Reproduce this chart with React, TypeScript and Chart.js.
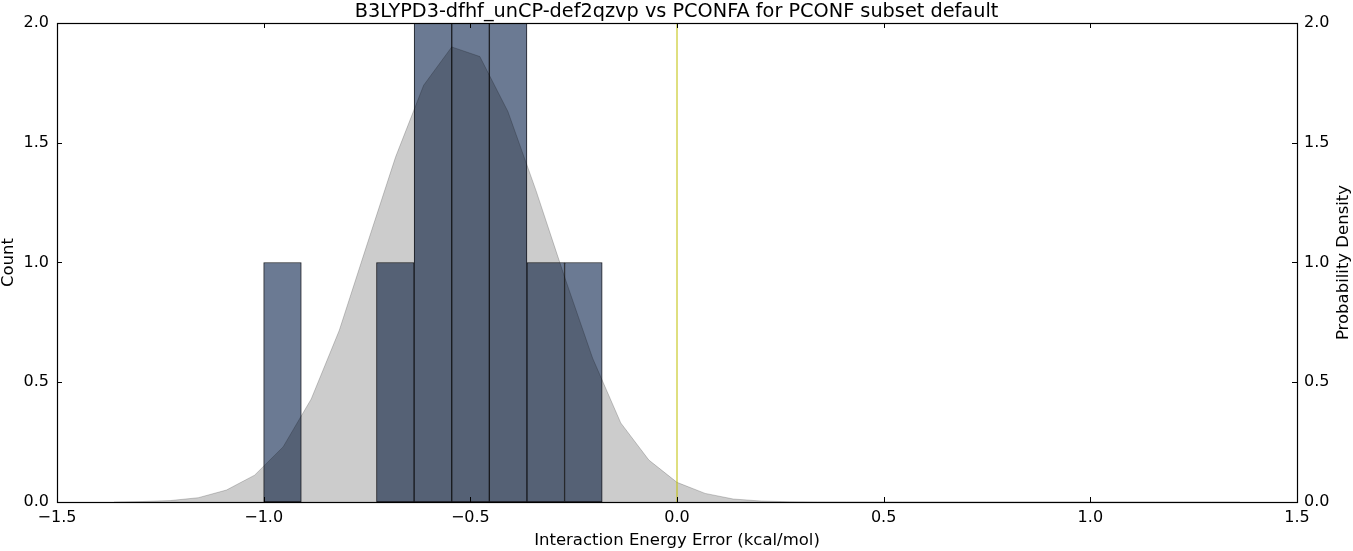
import React, { useEffect, useRef } from "react";
import { Chart, registerables } from "chart.js";

Chart.register(...registerables);

const TITLE = "B3LYPD3-dfhf_unCP-def2qzvp vs PCONFA for PCONF subset default";
const X_LABEL = "Interaction Energy Error (kcal/mol)";
const Y_LEFT_LABEL = "Count";
const Y_RIGHT_LABEL = "Probability Density";

// histogram
const binEdges = [-1.0, -0.909, -0.818, -0.727, -0.636, -0.545, -0.454, -0.363, -0.272, -0.181];
const binCounts = [1, 0, 0, 1, 2, 2, 2, 1, 1];

// kernel density estimate
const kdeX = [
  -1.362, -1.294, -1.226, -1.158, -1.090, -1.022, -0.953, -0.885, -0.817, -0.749,
  -0.681, -0.613, -0.545, -0.477, -0.409, -0.341, -0.272, -0.204, -0.136, -0.068,
  0.0, 0.068, 0.136, 0.204, 0.272, 0.341, 0.409, 0.477, 0.545, 0.613,
  0.681, 0.749, 0.817, 0.885, 0.953, 1.022, 1.090, 1.158, 1.226, 1.294, 1.362,
];
const kdeY = [
  0.0, 0.002, 0.006, 0.018, 0.05, 0.112, 0.23, 0.43, 0.717, 1.08,
  1.44, 1.74, 1.9, 1.86, 1.63, 1.3, 0.94, 0.6, 0.33, 0.175,
  0.082, 0.036, 0.0125, 0.004, 0.001, 0.0003, 0.0001, 0.0, 0.0, 0.0,
  0.0, 0.0, 0.0, 0.0, 0.0, 0.0, 0.0, 0.0, 0.0, 0.0, 0.0,
];

// reference line
const refLineX = [0.0, 0.0];
const refLineY = [0.0, 2.0];

const xTicks = [-1.5, -1.0, -0.5, 0.0, 0.5, 1.0, 1.5];
const yTicks = [0.0, 0.5, 1.0, 1.5, 2.0];

const FONT = "'DejaVu Sans', sans-serif";
const LABEL_SIZE = 16.5;
const fmt = (v: number) => (v < 0 ? "\u2212" : "") + Math.abs(v).toFixed(1);

const framePlugin = {
  id: "mplFrame",
  afterDatasetsDraw(chart: any) {
    const { ctx, chartArea } = chart;
    const { left, right, top, bottom } = chartArea;
    const xs = chart.scales.x;
    const ys = chart.scales.y;
    const TL = 5;
    ctx.save();
    ctx.strokeStyle = "#000";
    ctx.lineWidth = 1;
    ctx.beginPath();
    for (const v of xTicks) {
      const px = Math.round(xs.getPixelForValue(v)) + 0.5;
      ctx.moveTo(px, bottom);
      ctx.lineTo(px, bottom - TL);
      ctx.moveTo(px, top);
      ctx.lineTo(px, top + TL);
    }
    for (const v of yTicks) {
      const py = Math.round(ys.getPixelForValue(v)) + 0.5;
      ctx.moveTo(left, py);
      ctx.lineTo(left + TL, py);
      ctx.moveTo(right, py);
      ctx.lineTo(right - TL, py);
    }
    ctx.stroke();
    ctx.lineWidth = 1.2;
    ctx.strokeRect(Math.round(left) + 0.5, Math.round(top) + 0.5, Math.round(right - left), Math.round(bottom - top));
    // right axis label, reading bottom-to-top like matplotlib
    ctx.fillStyle = "#000";
    ctx.font = `${LABEL_SIZE}px ${FONT}`;
    ctx.textAlign = "center";
    ctx.textBaseline = "middle";
    ctx.translate(chart.width - 9.5, (top + bottom) / 2);
    ctx.rotate(-Math.PI / 2);
    ctx.fillText(Y_RIGHT_LABEL, 0, 0);
    ctx.restore();
  },
};

export default function App() {
  const ref = useRef<HTMLCanvasElement | null>(null);

  useEffect(() => {
    document.body.style.margin = "0";
    if (!ref.current) return;

    const barData = binCounts.map((c, i) => ({
      x: (binEdges[i] + binEdges[i + 1]) / 2,
      y: c > 0 ? c : null,
    }));
    const kdeData = kdeX.map((x, i) => ({ x, y: kdeY[i] }));
    const refData = refLineX.map((x, i) => ({ x, y: refLineY[i] }));

    const chart = new Chart(ref.current, {
      type: "bar",
      data: {
        datasets: [
          {
            type: "line",
            label: "zero",
            data: refData,
            xAxisID: "x",
            yAxisID: "y",
            borderColor: "#bfbf00",
            borderWidth: 1,
            pointRadius: 0,
            fill: false,
            order: 0,
          } as any,
          {
            type: "line",
            label: "density",
            data: kdeData,
            xAxisID: "x",
            yAxisID: "y2",
            borderColor: "rgba(0,0,0,0.2)",
            backgroundColor: "rgba(0,0,0,0.2)",
            borderWidth: 1,
            pointRadius: 0,
            tension: 0,
            fill: "origin",
            order: 1,
          } as any,
          {
            type: "bar",
            label: "count",
            data: barData,
            xAxisID: "x",
            yAxisID: "y",
            backgroundColor: "#6b7a93",
            borderColor: "#1e2026",
            borderWidth: 1,
            borderSkipped: false,
            barPercentage: 1,
            categoryPercentage: 1,
            order: 2,
          } as any,
        ],
      },
      options: {
        animation: false,
        responsive: true,
        maintainAspectRatio: false,
        layout: { padding: 0 },
        plugins: {
          legend: { display: false },
          tooltip: { enabled: false },
          title: {
            display: true,
            text: TITLE,
            color: "#000",
            font: { family: FONT, size: 19.3, weight: "normal", lineHeight: 1.1917 },
            padding: { top: 0, bottom: 0 },
          },
        },
        scales: {
          x: {
            type: "linear",
            position: "bottom",
            min: -1.5,
            max: 1.5,
            offset: false,
            grid: { display: false, drawTicks: false, offset: false },
            border: { display: false },
            afterBuildTicks: (s: any) => {
              s.ticks = xTicks.map((v) => ({ value: v }));
            },
            afterFit: (s: any) => {
              s.height = 49;
            },
            ticks: {
              color: "#000",
              padding: 6,
              maxRotation: 0,
              autoSkip: false,
              font: { family: FONT, size: 16 },
              callback: (v: any) => fmt(Number(v)),
            },
            title: {
              display: true,
              text: X_LABEL,
              color: "#000",
              font: { family: FONT, size: LABEL_SIZE },
              padding: { top: 0, bottom: 0 },
            },
          },
          y: {
            type: "linear",
            position: "left",
            min: 0,
            max: 2,
            grid: { display: false, drawTicks: false },
            border: { display: false },
            afterBuildTicks: (s: any) => {
              s.ticks = yTicks.map((v) => ({ value: v }));
            },
            afterFit: (s: any) => {
              s.width = 57;
            },
            ticks: {
              color: "#000",
              padding: 8,
              font: { family: FONT, size: 16 },
              callback: (v: any) => fmt(Number(v)),
            },
            title: {
              display: true,
              text: Y_LEFT_LABEL,
              color: "#000",
              font: { family: FONT, size: LABEL_SIZE },
              padding: { top: -1.5, bottom: 0 },
            },
          },
          y2: {
            type: "linear",
            position: "right",
            min: 0,
            max: 2,
            grid: { display: false, drawTicks: false },
            border: { display: false },
            afterBuildTicks: (s: any) => {
              s.ticks = yTicks.map((v) => ({ value: v }));
            },
            afterFit: (s: any) => {
              s.width = 56;
            },
            ticks: {
              color: "#000",
              padding: 7,
              font: { family: FONT, size: 16 },
              callback: (v: any) => fmt(Number(v)),
            },
          },
        },
      },
      plugins: [framePlugin],
    });

    return () => chart.destroy();
  }, []);

  return (
    <div style={{ position: "relative", width: "1353px", height: "551px" }}>
      <canvas ref={ref} />
    </div>
  );
}
